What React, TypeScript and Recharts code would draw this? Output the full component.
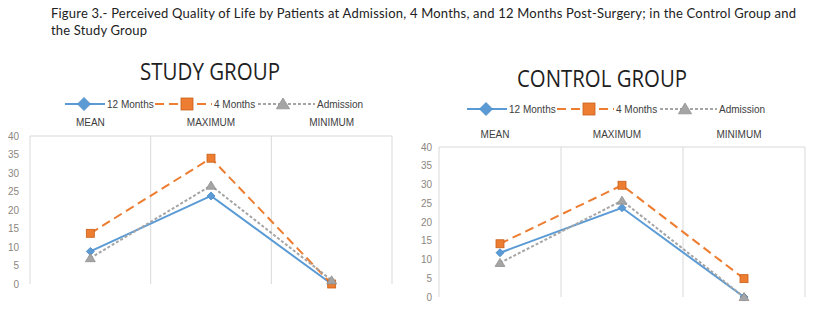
import { LineChart, Line, XAxis, YAxis, CartesianGrid } from "recharts";

const categories = ["MEAN", "MAXIMUM", "MINIMUM"];
const yTicks = [0, 5, 10, 15, 20, 25, 30, 35, 40];
const seriesNames = ["12 Months", "4 Months", "Admission"];

const studyTwelveMonths = [8.8, 23.8, 0];
const studyFourMonths = [13.7, 34, 0];
const studyAdmission = [7, 26.6, 1];

const controlTwelveMonths = [11.8, 23.8, 0];
const controlFourMonths = [14.2, 29.8, 4.9];
const controlAdmission = [9.1, 25.7, 0];

const captionLines = [
  "Figure 3.- Perceived Quality of Life by Patients at Admission, 4 Months, and 12 Months Post-Surgery; in the Control Group and",
  "the Study Group",
];

type Shape = "diamond" | "square" | "triangle";

const seriesStyles: { key: string; color: string; border: string; dash?: string; shape: Shape }[] = [
  { key: "twelve", color: "#5b9bd5", border: "#4a88c4", shape: "diamond" },
  { key: "four", color: "#ed7d31", border: "#c8601a", dash: "9 5", shape: "square" },
  { key: "admission", color: "#a5a5a5", border: "#8f8f8f", dash: "3 2", shape: "triangle" },
];

const buildRows = (twelve: number[], four: number[], admission: number[]) =>
  categories.map((category, i) => ({ category, twelve: twelve[i], four: four[i], admission: admission[i] }));

const studyRows = buildRows(studyTwelveMonths, studyFourMonths, studyAdmission);
const controlRows = buildRows(controlTwelveMonths, controlFourMonths, controlAdmission);

function Marker({ cx, cy, shape, color, border, size }: { cx: number; cy: number; shape: Shape; color: string; border: string; size: number }) {
  if (shape === "diamond") {
    const d = `M${cx},${cy - size} L${cx + size},${cy} L${cx},${cy + size} L${cx - size},${cy} Z`;
    return <path d={d} fill={color} stroke={border} strokeWidth={0.8} />;
  }
  if (shape === "square") {
    return <rect x={cx - size} y={cy - size} width={size * 2} height={size * 2} fill={color} stroke={border} strokeWidth={0.8} />;
  }
  const d = `M${cx},${cy - size} L${cx + size * 1.1},${cy + size * 0.8} L${cx - size * 1.1},${cy + size * 0.8} Z`;
  return <path d={d} fill={color} stroke={border} strokeWidth={0.8} />;
}

// vertical lines on the category boundaries, like the excel plot area
const gridGenerator = (props: any) => {
  const o = props.offset;
  const n = categories.length;
  return Array.from({ length: n + 1 }, (_, i) => o.left + (o.width * i) / n);
};

function GroupChart({
  rows,
  left,
  margin,
  yTickMargin,
  xTickMargin,
  xTickDx,
}: {
  rows: typeof studyRows;
  left: number;
  margin: { top: number; right: number; bottom: number; left: number };
  yTickMargin: number;
  xTickMargin: number;
  xTickDx: number;
}) {
  return (
    <div style={{ position: "absolute", left, top: 0, width: 408, height: 310 }}>
      <LineChart width={408} height={310} data={rows} margin={margin}>
        <CartesianGrid horizontal={false} stroke="#d9d9d9" verticalCoordinatesGenerator={gridGenerator} />
        <XAxis
          dataKey="category"
          orientation="top"
          scale="band"
          height={30}
          stroke="#d9d9d9"
          tickLine={false}
          tickMargin={xTickMargin}
          tick={{ fill: "#404040", fontSize: 10, fontFamily: "Liberation Sans", dx: xTickDx }}
        />
        <YAxis
          domain={[0, 40]}
          ticks={yTicks}
          width={30}
          axisLine={false}
          tickLine={false}
          tickMargin={yTickMargin}
          tick={{ fill: "#8c8680", fontSize: 10, fontFamily: "Liberation Sans" }}
        />
        {seriesStyles.map((s, si) => (
          <Line
            key={s.key}
            dataKey={s.key}
            name={seriesNames[si]}
            stroke={s.color}
            strokeWidth={2}
            strokeDasharray={s.dash}
            isAnimationActive={false}
            activeDot={false}
            dot={(p: any) => (
              <Marker
                key={`${s.key}-${p.index}`}
                cx={p.cx}
                cy={p.cy}
                shape={s.shape}
                color={s.color}
                border={s.border}
                size={s.shape === "triangle" ? 4.5 : 4}
              />
            )}
          />
        ))}
      </LineChart>
    </div>
  );
}

function Legend({ x, y }: { x: number; y: number }) {
  const items = [
    { line: [0, 40], marker: 19, text: 42 },
    { line: [90, 147], marker: 122, text: 149 },
    { line: [193, 250], marker: 218, text: 252 },
  ];
  return (
    <g transform={`translate(${x},${y})`}>
      {items.map((it, i) => {
        const s = seriesStyles[i];
        return (
          <g key={s.key}>
            <line x1={it.line[0]} x2={it.line[1]} y1={0} y2={0} stroke={s.color} strokeWidth={2} strokeDasharray={s.dash} />
            <Marker cx={it.marker} cy={0} shape={s.shape} color={s.color} border={s.border} size={s.shape === "diamond" ? 6.5 : 6} />
            <text x={it.text} y={3.5} fontSize={10} fontFamily="Liberation Sans" fill="#404040">
              {seriesNames[i]}
            </text>
          </g>
        );
      })}
    </g>
  );
}

export default function App() {
  return (
    <div style={{ position: "absolute", left: 0, top: 0, width: 816, height: 310, background: "#fff" }}>
      <GroupChart
        rows={studyRows}
        left={0}
        margin={{ top: 106, right: 16, bottom: 26, left: 0 }}
        yTickMargin={5}
        xTickMargin={4}
        xTickDx={0}
      />
      <GroupChart
        rows={controlRows}
        left={408}
        margin={{ top: 117, right: 11, bottom: 13, left: 1 }}
        yTickMargin={1}
        xTickMargin={3}
        xTickDx={-5}
      />
      <svg width={816} height={310} style={{ position: "absolute", left: 0, top: 0, pointerEvents: "none" }}>
        <text x={51} y={17.5} fontSize={13} fontFamily="Lato" fill="#222" textLength={745} lengthAdjust="spacing">
          {captionLines[0]}
        </text>
        <text x={51} y={35} fontSize={13} fontFamily="Lato" fill="#222" textLength={96} lengthAdjust="spacing">
          {captionLines[1]}
        </text>
        <text x={140} y={80} fontSize={23} fontFamily="Open Sans" fill="#1f1f1f" textLength={140} lengthAdjust="spacingAndGlyphs">
          STUDY GROUP
        </text>
        <text x={517} y={87} fontSize={23} fontFamily="Open Sans" fill="#1f1f1f" textLength={170} lengthAdjust="spacingAndGlyphs">
          CONTROL GROUP
        </text>
        <Legend x={65} y={104} />
        <Legend x={467} y={109} />
      </svg>
    </div>
  );
}
